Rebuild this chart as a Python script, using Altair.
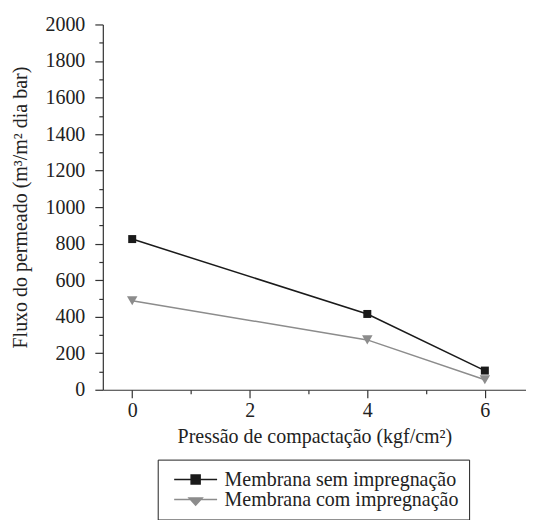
import altair as alt
import pandas as pd

pressure = [0, 4, 6]
flux_sem = [825, 415, 105]
flux_com = [487, 273, 55]
series_names = ["Membrana sem impregnação", "Membrana com impregnação"]

df_sem = pd.DataFrame({"p": pressure, "v": flux_sem, "s": series_names[0]})
df_com = pd.DataFrame({"p": pressure, "v": flux_com, "s": series_names[1]})
df_leg = pd.DataFrame({"p": [0, 0], "v": [-1000, -1000], "s": series_names})

FONT = "Liberation Serif"
BLACK = "#1a1a1a"
GREY = "#8c8c8c"
TXT = "#222222"

x_axis = alt.Axis(
    values=[0, 1, 2, 3, 4, 5, 6],
    labelExpr="datum.value % 2 === 0 ? datum.label : ''",
    tickSize={"condition": {"test": "datum.value % 2 === 0", "value": 8}, "value": 4},
    title="Pressão de compactação (kgf/cm²)",
    grid=False,
    labelFont=FONT, labelFontSize=20, labelColor=TXT, labelPadding=3,
    titleFont=FONT, titleFontSize=20, titleFontWeight="normal", titleColor=TXT,
    titlePadding=6,
    domainColor="#333", tickColor="#333", domainWidth=1.2, tickWidth=1.2,
)
y_axis = alt.Axis(
    values=list(range(0, 2001, 100)),
    labelExpr="datum.value % 200 === 0 ? datum.label : ''",
    tickSize={"condition": {"test": "datum.value % 200 === 0", "value": 8}, "value": 4},
    format="d",
    title="Fluxo do permeado (m³/m² dia bar)",
    grid=False,
    labelFont=FONT, labelFontSize=20, labelColor=TXT, labelPadding=10,
    titleFont=FONT, titleFontSize=20, titleFontWeight="normal", titleColor=TXT,
    titlePadding=14,
    domainColor="#333", tickColor="#333", domainWidth=1.2, tickWidth=1.2,
)

X = alt.X("p:Q", scale=alt.Scale(domain=[-0.5, 6.7], nice=False, zero=False), axis=x_axis)
Y = alt.Y("v:Q", scale=alt.Scale(domain=[0, 2000], nice=False), axis=y_axis)

line_sem = alt.Chart(df_sem).mark_line(color=BLACK, strokeWidth=1.5).encode(x=X, y=Y)
line_com = alt.Chart(df_com).mark_line(color=GREY, strokeWidth=1.5).encode(x=X, y=Y)
pts_sem = alt.Chart(df_sem).mark_point(shape="square", filled=True, color=BLACK, size=64, opacity=1).encode(x=X, y=Y)
pts_com = alt.Chart(df_com).mark_point(shape="triangle-down", filled=True, color=GREY, size=110, opacity=1).encode(x=X, y=Y)

sym_sem = "M-4.3,0H4.3M-0.9,-0.9H0.9V0.9H-0.9Z"
sym_com = "M-4.3,0H4.3M-1.3,-0.3H1.3L0,1.1Z"

legend = alt.Legend(
    orient="none", legendX=55, legendY=436, direction="vertical",
    strokeColor=TXT, padding=10, symbolSize=100, symbolStrokeWidth=1.5,
    symbolOffset=18, labelOffset=19, labelLimit=500,
    labelFont=FONT, labelFontSize=20, labelColor=TXT,
    symbolOpacity=1, rowPadding=-1,
)
leg_layer = alt.Chart(df_leg).mark_point(filled=True, clip=True, opacity=1).encode(
    x=X, y=Y,
    fill=alt.Fill("s:N", title=None, scale=alt.Scale(domain=series_names, range=[BLACK, GREY]), legend=legend),
    stroke=alt.Stroke("s:N", title=None, scale=alt.Scale(domain=series_names, range=[BLACK, GREY]), legend=legend),
    shape=alt.Shape("s:N", title=None, scale=alt.Scale(domain=series_names, range=[sym_sem, sym_com]), legend=legend),
)

chart = alt.layer(line_sem, line_com, pts_sem, pts_com, leg_layer).properties(
    width=424, height=366,
    padding={"left": 95, "top": 16, "right": 0, "bottom": 130},
    autosize=alt.AutoSizeParams(type="none"),
    background="white",
).configure_view(stroke=None)

chart.save("out.html", embed_options={"renderer": "svg", "actions": False})
